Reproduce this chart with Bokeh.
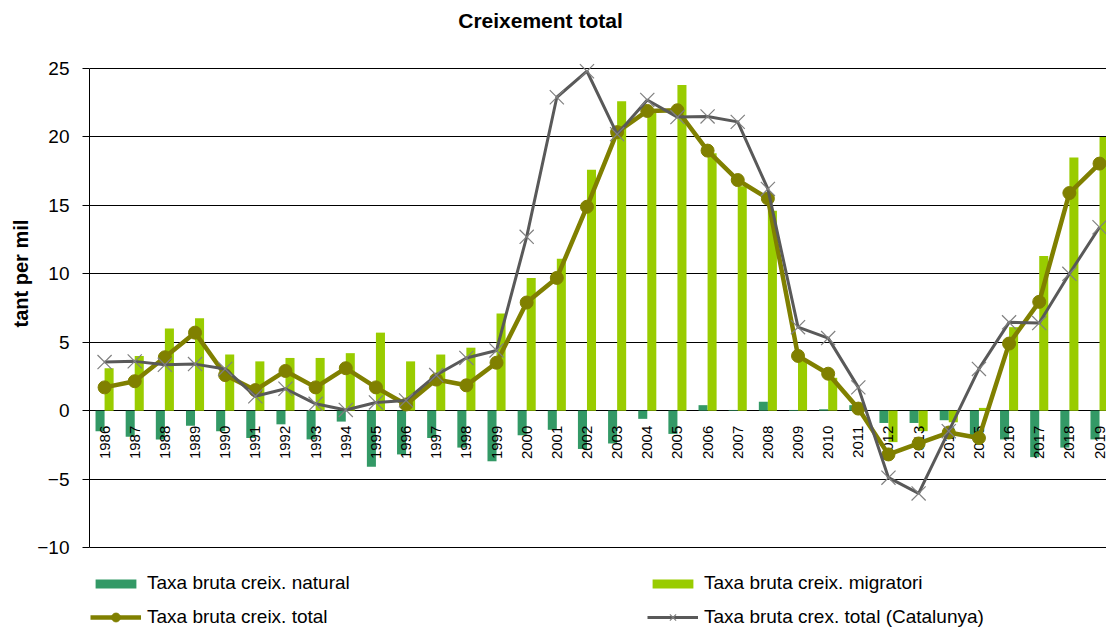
import math
from bokeh.plotting import figure
from bokeh.models import Range1d, FixedTicker, Title, Legend, LegendItem, ColumnDataSource, Label
from bokeh.transform import dodge
from bokeh.core.properties import value
from bokeh.embed import file_html
from bokeh.resources import INLINE

years = [str(y) for y in range(1986, 2020)]
natural = [-1.5, -1.9, -2.1, -1.1, -1.5, -2.0, -1.0, -2.1, -0.8, -4.1,
           -3.2, -2.0, -2.7, -3.7, -1.8, -1.4, -2.8, -2.4, -0.6, -1.7,
           0.4, 0.05, 0.65, 0.05, 0.1, 0.4, -0.9, -0.9, -0.7, -1.9,
           -2.1, -3.4, -2.7, -2.1]
migratori = [3.1, 4.0, 6.0, 6.75, 4.1, 3.6, 3.85, 3.85, 4.2, 5.7,
             3.6, 4.1, 4.6, 7.1, 9.7, 11.1, 17.6, 22.6, 22.0, 23.8,
             18.8, 16.4, 14.6, 3.7, 2.4, 0.0, -2.3, -1.5, -0.85, 0.2,
             6.1, 11.3, 18.5, 20.0]
total = [1.7, 2.15, 3.9, 5.7, 2.6, 1.5, 2.9, 1.7, 3.1, 1.7,
         0.45, 2.27, 1.85, 3.5, 7.9, 9.7, 14.9, 20.35, 21.9, 21.95,
         19.0, 16.85, 15.5, 4.0, 2.7, 0.15, -3.2, -2.4, -1.6, -2.0,
         4.9, 7.95, 15.9, 18.05]
catalunya = [3.55, 3.6, 3.35, 3.4, 3.05, 1.05, 1.6, 0.5, 0.05, 0.6,
             0.75, 2.6, 3.85, 4.4, 12.7, 22.9, 24.8, 20.2, 22.7, 21.45,
             21.5, 21.1, 16.2, 6.1, 5.3, 1.7, -4.9, -6.05, -1.5, 3.05,
             6.45, 6.4, 10.0, 13.4]
y_ticks = [-10, -5, 0, 5, 10, 15, 20, 25]

FONT = "Liberation Sans"

# layout constants (pixels)
W, H = 1106, 628
LEFT = 89
PX_PER_UNIT = 479 / 35.0     # 25 .. -10 spans 479 px
PX_PER_CAT = 30.15
TOP_GAP = 68                 # px from figure top to the 25 line
y_hi = 25 + TOP_GAP / PX_PER_UNIT
y_lo = 25 - (H - TOP_GAP) / PX_PER_UNIT
x_hi = -0.5 + (W - LEFT) / PX_PER_CAT

src = ColumnDataSource(dict(x=list(range(len(years))), year=years, natural=natural,
                            migratori=migratori, total=total, catalunya=catalunya))

p = figure(width=W, height=H, x_range=Range1d(-0.5, x_hi), y_range=Range1d(y_lo, y_hi),
           output_backend="svg", toolbar_location=None, x_axis_location=None,
           min_border_left=LEFT, min_border_right=0, min_border_top=0, min_border_bottom=0)
p.outline_line_color = None
p.background_fill_color = "white"
p.border_fill_color = "white"

p.xgrid.visible = False
p.ygrid.ticker = FixedTicker(ticks=y_ticks)
p.ygrid.grid_line_color = "black"
p.ygrid.grid_line_width = 1

ax = p.yaxis[0]
ax.ticker = FixedTicker(ticks=y_ticks)
ax.bounds = (-10, 25)
ax.axis_line_color = "black"
ax.major_tick_line_color = "black"
ax.major_tick_out = 7
ax.major_tick_in = 0
ax.minor_tick_line_color = None
ax.major_label_standoff = 13
ax.major_label_text_font = FONT
ax.major_label_text_font_size = "19px"
ax.major_label_text_color = "black"

r_nat = p.vbar(x=dodge("x", -0.15, range=p.x_range), top="natural", bottom=0, width=0.3,
               source=src, fill_color="#339966", line_color=None)
r_mig = p.vbar(x=dodge("x", 0.15, range=p.x_range), top="migratori", bottom=0, width=0.3,
               source=src, fill_color="#99CC00", line_color=None)

p.text(x="x", y=-1.1, text="year", source=src, angle=math.pi / 2, text_align="right",
       text_baseline="middle", text_font=value(FONT), text_font_size="15px", text_color="black")

r_tl = p.line(x="x", y="total", source=src, line_color="#808000", line_width=4.5)
r_tp = p.scatter(x="x", y="total", source=src, marker="circle", size=13,
                 fill_color="#808000", line_color="#808000")
r_cl = p.line(x="x", y="catalunya", source=src, line_color="#595959", line_width=3)
r_cp = p.scatter(x="x", y="catalunya", source=src, marker="x", size=20,
                 line_color="#808080", line_width=1.2)

title = Label(x=-0.5 + (540 - LEFT) / PX_PER_CAT, y=25 + (68 - 20) / PX_PER_UNIT,
              text="Creixement total", text_align="center", text_baseline="middle",
              text_font=FONT, text_font_size="21px", text_font_style="bold", text_color="black")
p.add_layout(title)

ylab = Title(text="tant per mil", align="left", offset=301, standoff=6,
             text_font=FONT, text_font_size="20px", text_font_style="bold", text_color="black")
p.add_layout(ylab, "left")

common = dict(orientation="horizontal", ncols=2, glyph_width=51, label_standoff=6,
              label_width=494, label_height=22, spacing=6, padding=0, margin=0,
              border_line_color=None, background_fill_alpha=0,
              label_text_font=FONT, label_text_font_size="19px", label_text_color="black")

legend_bars = Legend(items=[
    LegendItem(label="Taxa bruta creix. natural", renderers=[r_nat]),
    LegendItem(label="Taxa bruta creix. migratori", renderers=[r_mig]),
], location=(1, 34), glyph_height=11, **common)
p.add_layout(legend_bars, "center")

legend_lines = Legend(items=[
    LegendItem(label="Taxa bruta creix. total", renderers=[r_tl, r_tp]),
    LegendItem(label="Taxa bruta crex. total (Catalunya)", renderers=[r_cl, r_cp]),
], location=(1, 0), glyph_height=22, **common)
p.add_layout(legend_lines, "center")

open("out.html", "w").write(file_html(p, INLINE))
